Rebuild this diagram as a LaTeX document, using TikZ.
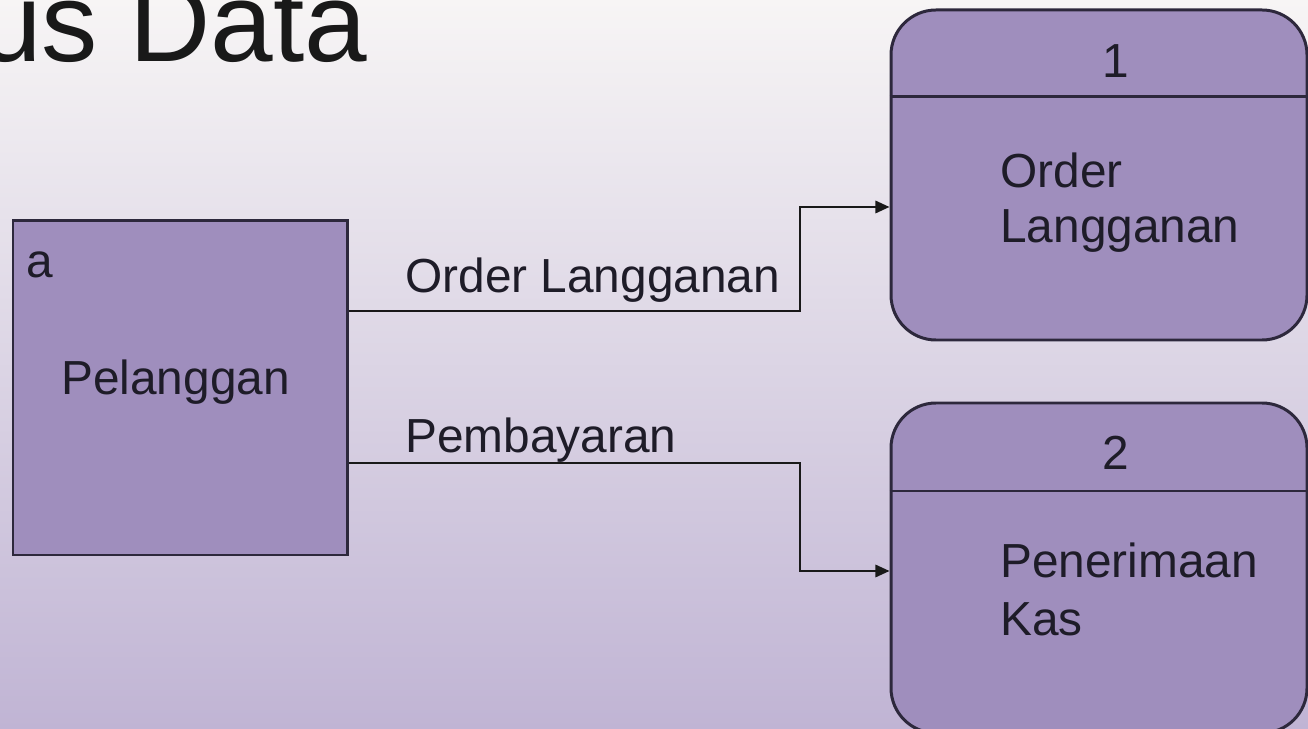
\documentclass[tikz,border=0pt]{standalone}
\usepackage{fontspec}
\setmainfont{Liberation Sans}
\usetikzlibrary{arrows.meta}

\begin{document}
\begin{tikzpicture}[x=0.2mm, y=-0.2mm,
    extbox/.style={draw=boxline, fill=boxfill, line width=1.7pt, inner sep=0pt,
      minimum width=6.68cm, minimum height=6.68cm},
    procbox/.style={draw=boxline, fill=boxfill, line width=1.7pt, inner sep=0pt,
      rounded corners=0.9cm, minimum width=8.32cm, minimum height=6.6cm},
    lbl/.style={font=\fontsize{27.2}{32}\selectfont, text=txt, inner sep=0pt, anchor=base west},
    flow/.style={line width=1.3pt, draw=flowline, -{Triangle[length=8pt,width=7pt]}}]
    \definecolor{boxfill}{RGB}{159,142,189}
    \definecolor{boxline}{RGB}{45,40,60}
    \definecolor{flowline}{RGB}{25,25,25}
    \definecolor{txt}{RGB}{30,28,40}
    \definecolor{bgtop}{RGB}{247,245,245}
    \definecolor{bgbot}{RGB}{192,180,212}
    \useasboundingbox (0,0) rectangle (1308,729);
    \clip (0,0) rectangle (1308,729);
    \shade[top color=bgtop, bottom color=bgbot] (0,0) rectangle (1308,729);
    % title, cut by the frame
    \node[font=\fontsize{64}{68}\selectfont, text=black!90, inner sep=0pt, anchor=base west] (title) at (-21,62) {us Data};
    % external entity
    \node[extbox] (pel) at (180,388) {};
    \node[lbl] (pelid) at (26,278) {a};
    \node[lbl] (pelname) at (61,395) {Pelanggan};
    % processes
    \node[procbox] (p1) at (1099,175) {};
    \draw[line width=1.7pt, draw=boxline] (p1.west |- 0,97) -- (p1.east |- 0,97);
    \node[lbl, anchor=base] (p1id) at (1116,78) {1};
    \node[lbl] (p1a) at (1000,188) {Order};
    \node[lbl] (p1b) at (1000,243) {Langganan};
    \node[procbox] (p2) at (1099,568) {};
    \draw[line width=1.7pt, draw=boxline] (p2.west |- 0,491) -- (p2.east |- 0,491);
    \node[lbl, anchor=base] (p2id) at (1116,470) {2};
    \node[lbl] (p2a) at (1000,578) {Penerimaan};
    \node[lbl] (p2b) at (1000,635) {Kas};
    % flows
    \coordinate (bend1) at (800,311);
    \coordinate (bend2) at (800,463);
    \draw[flow] (pel.east |- bend1) -- (bend1) |- (p1.west |- 0,207);
    \draw[flow] (pel.east |- bend2) -- (bend2) |- (p2.west |- 0,571);
    \node[lbl] (f1) at (405,293) {Order Langganan};
    \node[lbl] (f2) at (405,453) {Pembayaran};
\end{tikzpicture}
\end{document}
